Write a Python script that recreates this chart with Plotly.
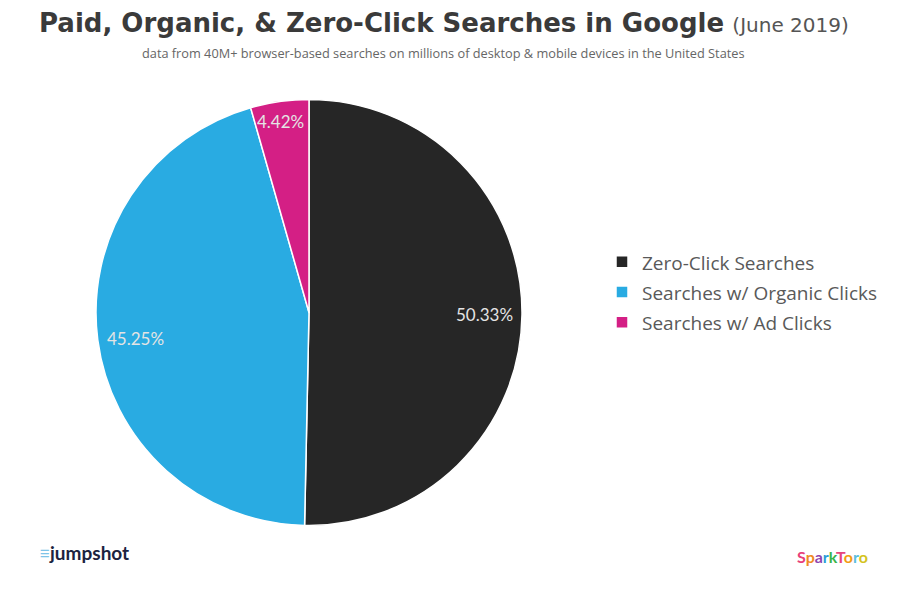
import math
import plotly.graph_objects as go

labels = ["Zero-Click Searches", "Searches w/ Organic Clicks", "Searches w/ Ad Clicks"]
values = [50.33, 45.25, 4.42]
colors = ["#262626", "#29abe2", "#d41f85"]

title_main = "Paid, Organic, &amp; Zero-Click Searches in Google"
title_sub = "(June 2019)"
subtitle = "data from 40M+ browser-based searches on millions of desktop &amp; mobile devices in the United States"

W, H = 900, 600
OFF = 8  # page body margin


def px(x):
    return (x - OFF) / W


def py(y):
    return 1 - (y - OFF) / H


dom_x = [px(96), px(522)]
dom_y = [py(526), py(99)]

legend_labels = [f"<span style='font-size:19px'>{l}</span>" for l in labels]

fig = go.Figure()
fig.add_trace(go.Pie(
    labels=legend_labels, values=values, sort=False, direction="clockwise", rotation=0,
    marker=dict(colors=colors, line=dict(color="white", width=1.5)),
    textinfo="none", hoverinfo="percent",
    domain=dict(x=dom_x, y=dom_y),
))

# data-driven label placement ("inside end")
cx = (dom_x[0] + dom_x[1]) / 2
cy = (dom_y[0] + dom_y[1]) / 2
R = min((dom_x[1] - dom_x[0]) * W, (dom_y[1] - dom_y[0]) * H) / 2
total = sum(values)
annotations = []
cum = 0
for v in values:
    mid = (cum + v / 2) / total * 2 * math.pi
    cum += v
    s, c = math.sin(mid), math.cos(mid)
    ax = cx + 0.965 * R * s / W
    ay = cy + 0.965 * R * c / H
    if abs(s) > 0.7:
        xa = "right" if s > 0 else "left"
        ya = "middle"
    else:
        xa = "center"
        ya = "top" if c > 0 else "bottom"
    annotations.append(dict(
        x=ax, y=ay, xref="paper", yref="paper",
        text=f"{v:.2f}%", showarrow=False, xanchor=xa, yanchor=ya,
        font=dict(family="Lato", size=17, color="#e4e4e4"),
    ))

annotations.append(dict(
    x=px(37), y=py(23), xref="paper", yref="paper", showarrow=False,
    text=f"<b>{title_main}</b> <span style='font-size:20px;color:#555'>{title_sub}</span>",
    font=dict(family="DejaVu Sans", size=26, color="#3a3a3a"), xanchor="left", yanchor="middle",
))
annotations.append(dict(
    x=px(443), y=py(53), xref="paper", yref="paper", showarrow=False,
    text=subtitle, font=dict(family="Open Sans", size=12.75, color="#666"),
    xanchor="center", yanchor="middle",
))
annotations.append(dict(
    x=px(37), y=py(552), xref="paper", yref="paper", showarrow=False,
    text="<span style='color:#7fc3e8'>≡</span><b>jumpshot</b>",
    font=dict(family="Lato", size=19, color="#1c2340"), xanchor="left", yanchor="middle",
))
spark = [("S", "#e8407a"), ("p", "#f08a24"), ("a", "#8e44ad"), ("r", "#2b9ed8"), ("k", "#3bb54a"),
         ("T", "#e6467c"), ("o", "#f39c12"), ("r", "#5bc0de"), ("o", "#d4c31e")]
annotations.append(dict(
    x=px(870), y=py(556), xref="paper", yref="paper", showarrow=False,
    text="<b>" + "".join(f"<span style='color:{c}'>{ch}</span>" for ch, c in spark) + "</b>",
    font=dict(family="Lato", size=16), xanchor="right", yanchor="middle",
))

fig.update_layout(
    width=W, height=H, margin=dict(l=0, r=0, t=0, b=0),
    paper_bgcolor="white", plot_bgcolor="white",
    showlegend=True,
    legend=dict(x=px(602), y=py(292), xanchor="left", yanchor="middle",
                font=dict(family="Open Sans", size=21, color="#595959"),
                itemwidth=30),
    annotations=annotations,
)
fig.write_html("out.html")
